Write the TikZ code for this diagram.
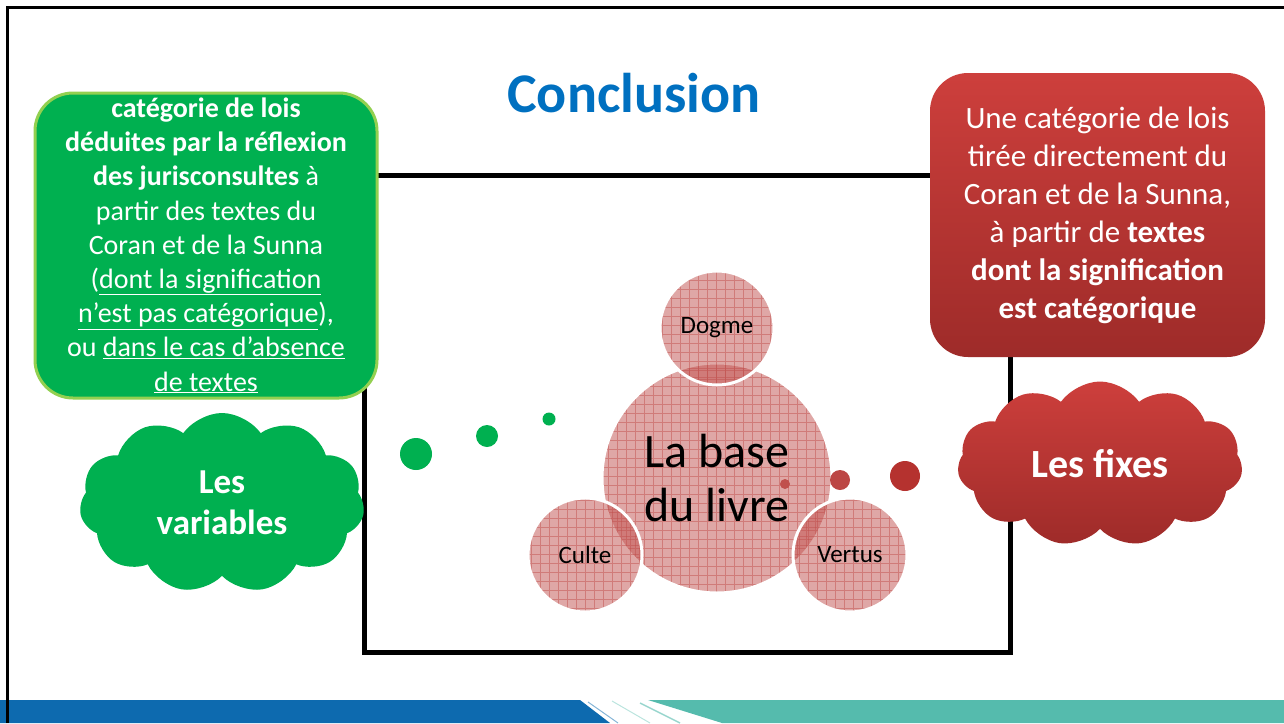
\documentclass[tikz,border=0pt]{standalone}
\usepackage{fontspec}
\setmainfont{Carlito}
\usetikzlibrary{shapes.symbols}

\definecolor{lawgreen}{HTML}{00B050}
\definecolor{lawlime}{HTML}{92D050}
\definecolor{lawred}{HTML}{C0504D}
\definecolor{dotred}{HTML}{B5322F}
\definecolor{redtop}{HTML}{CD3F3C}
\definecolor{redbottom}{HTML}{9E2B29}
\definecolor{titleblue}{HTML}{0070C0}
\definecolor{barblue}{HTML}{0D6AAF}
\definecolor{barteal}{HTML}{55BBAD}

\begin{document}
\begin{tikzpicture}[x=1pt,y=-1pt]
			\tikzset{
				lawbox/.style={rounded corners=38pt, minimum width=#1, inner sep=0pt, align=center, text=white},
				puff/.style={cloud, cloud puffs=11, cloud puff arc=110, cloud ignores aspect, inner sep=0pt, align=center, text=white},
				topic/.style={circle, minimum size=#1, inner sep=0pt, fill=lawred, fill opacity=.5, text opacity=1,
					draw=white, line width=3pt,
					path picture={\draw[lawred, draw opacity=.5, line width=.7pt, step=9pt] (path picture bounding box.south west) grid (path picture bounding box.north east);}},
			}
			\useasboundingbox (0,0) rectangle (1284,723);

			% bottom band
			\fill[barblue] (0,700) -- (580,700) -- (610,723) -- (0,723) -- cycle;
			\fill[barteal] (648,700) -- (1284,700) -- (1284,723) -- (722,723) -- cycle;
			\draw[barblue!50, line width=1pt] (588,702) -- (618,723);
			\draw[barteal!60, line width=1.5pt] (640,703) -- (680,723);
			\draw[barteal!40, line width=1pt] (612,701) -- (650,723);

			% slide frame
			\draw[line width=3pt] (7,723) -- (7,7) -- (1284,7);

			% the book frame
			\draw[line width=5pt] (364,175) rectangle (1010,652);

			% circles
			\node[topic=230pt, font=\fontsize{48}{54}\selectfont, align=center] (base) at (717,478) {La base\\du livre};
			\node[topic=114pt, font=\fontsize{25}{30}\selectfont] (dogme) at (717,328) {Dogme};
			\node[topic=114pt, font=\fontsize{25}{30}\selectfont] (culte) at (585,555) {Culte};
			\node[topic=114pt, font=\fontsize{25}{30}\selectfont] (vertus) at (850,555) {Vertus};

			% bubbles
			\fill[lawgreen] (416,454) circle (16pt);
			\fill[lawgreen] (487,436) circle (11pt);
			\fill[lawgreen] (549,419) circle (6.5pt);
			\fill[lawred] (785,484) circle (5pt);
			\fill[dotred!90!white] (840,480) circle (10pt);
			\fill[dotred] (905,476) circle (15pt);

			\node[lawbox=342pt, minimum height=305pt, fill=lawgreen, draw=lawlime, line width=3pt, font=\fontsize{28}{34.2}\selectfont] (vartext) at (206,245.5)
				{\textbf{catégorie de lois}\\
				\textbf{déduites par la réflexion}\\
				\textbf{des jurisconsultes} à\\
				partir des textes du\\
				Coran et de la Sunna\\
				(\underline{dont la signification}\\
				\underline{n’est pas catégorique}),\\
				ou \underline{dans le cas d’absence}\\
				\underline{de textes}};
			\node[lawbox=335pt, minimum height=284pt, top color=redtop, bottom color=redbottom, font=\fontsize{31}{38}\selectfont] (fixtext) at (1097.5,215)
				{Une catégorie de lois\\
				tirée directement du\\
				Coran et de la Sunna,\\
				à partir de \textbf{textes}\\
				\textbf{dont la signification}\\
				\textbf{est catégorique}};

			\node[puff, fill=lawgreen, minimum width=285pt, minimum height=180pt, font=\bfseries\fontsize{35}{41}\selectfont] (var) at (222,503) {Les\\variables};
			\node[puff, top color=redtop, bottom color=redbottom, minimum width=285pt, minimum height=165pt, font=\bfseries\fontsize{40}{46}\selectfont] (fix) at (1100,464) {Les fixes};

			\node[font=\bfseries\fontsize{56}{60}\selectfont, text=titleblue] (title) at (634,93) {Conclusion};
\end{tikzpicture}
\end{document}
